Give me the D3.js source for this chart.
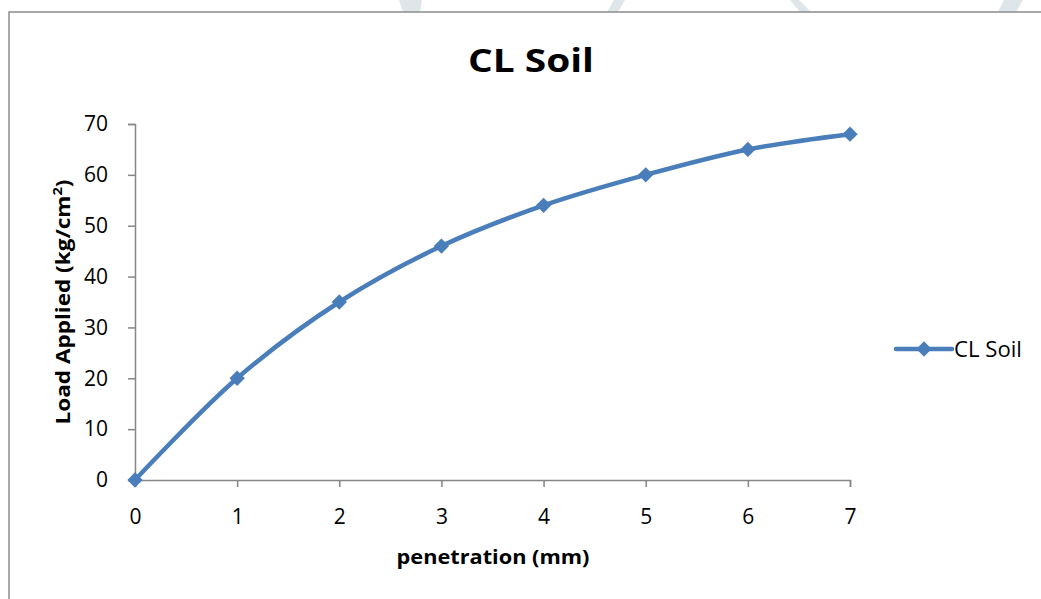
<!DOCTYPE html>
<html>
<head>
<meta charset="utf-8">
<script src="https://cdn.jsdelivr.net/npm/d3@7"></script>
<style>
  body { margin: 0; background: #fff; }
  svg { display: block; font-family: "Open Sans", "Liberation Sans", sans-serif; }
</style>
</head>
<body>
<svg id="chart" width="1041" height="599"></svg>
<script>
// chart data
const penetration = [0, 1, 2, 3, 4, 5, 6, 7];
const load = [0, 20, 35, 46, 54, 60, 65, 68];
const yTicks = [0, 10, 20, 30, 40, 50, 60, 70];
const seriesName = 'CL Soil';

const svg = d3.select('#chart');
const blue = '#4a7ebb';
const axisGrey = '#868686';

// stretch a text horizontally to a target width (the source picture is stretched)
function fitWidth(sel, w, base) {
  const n = sel.node().getComputedTextLength();
  sel.attr('transform', `${base} scale(${w / n},1)`);
}

// faint watermark shapes peeking above the chart frame
const marks = [
  [[399, 0], [422, 0], [420, 12], [403, 12]],
  [[614, 0], [625, 0], [618, 12], [607, 12]],
  [[790, 0], [799, 0], [811, 12], [800, 12]],
  [[1004, 0], [1023, 0], [1016, 12], [998, 12]]
];
svg.append('g').selectAll('path').data(marks).enter().append('path')
  .attr('d', d => 'M' + d.join('L') + 'Z')
  .attr('fill', '#dfe6ea');

// chart frame
svg.append('rect').attr('x', 9).attr('y', 12).attr('width', 1040).attr('height', 600)
  .attr('fill', '#fff').attr('stroke', '#8c8c8c').attr('stroke-width', 1.5);

const x = d3.scaleLinear().domain([0, 7]).range([135, 850]);
const y = d3.scaleLinear().domain([0, 70]).range([480, 124]);

// x axis
const gx = svg.append('g').attr('transform', `translate(0,${y(0)})`)
  .call(d3.axisBottom(x).tickValues(penetration).tickSize(7).tickPadding(22).tickFormat(d3.format('d')))
  .attr('font-family', null).attr('font-size', 21);
gx.select('.domain').attr('stroke', axisGrey).attr('stroke-width', 1.5);
gx.selectAll('.tick line').attr('stroke', axisGrey).attr('stroke-width', 1.5);
gx.selectAll('.tick text').attr('fill', '#000');

// y axis
const gy = svg.append('g').attr('transform', `translate(${x(0)},0)`)
  .call(d3.axisLeft(y).tickValues(yTicks).tickSize(7).tickPadding(20))
  .attr('font-family', null).attr('font-size', 21);
gy.select('.domain').attr('stroke', axisGrey).attr('stroke-width', 1.5);
gy.selectAll('.tick line').attr('stroke', axisGrey).attr('stroke-width', 1.5);
gy.selectAll('.tick text').attr('fill', '#000');

// title + axis titles
const title = svg.append('text').attr('text-anchor', 'middle')
  .attr('font-size', 33).attr('font-weight', 'bold').text('CL Soil');
fitWidth(title, 126, 'translate(531,72)');

const xt = svg.append('text').attr('text-anchor', 'middle')
  .attr('font-size', 20).attr('font-weight', 'bold').text('penetration (mm)');
fitWidth(xt, 193, 'translate(493,564)');

const yt = svg.append('text').attr('text-anchor', 'middle')
  .attr('font-size', 20).attr('font-weight', 'bold');
yt.append('tspan').text('Load Applied (kg/cm');
yt.append('tspan').attr('font-size', 13).attr('dy', -8).text('2');
yt.append('tspan').attr('dy', 8).text(')');
fitWidth(yt, 245, 'translate(70,302) rotate(-90)');

// series
const pts = penetration.map((p, i) => [p, load[i]]);
const line = d3.line().x(d => x(d[0])).y(d => y(d[1])).curve(d3.curveCatmullRom.alpha(0.5));
svg.append('path').datum(pts).attr('d', line)
  .attr('fill', 'none').attr('stroke', blue).attr('stroke-width', 4.5).attr('stroke-linejoin', 'round');

const diamond = d3.symbol().type(d3.symbolDiamond2).size(150);
svg.append('g').selectAll('path').data(pts).enter().append('path')
  .attr('d', diamond)
  .attr('transform', d => `translate(${x(d[0])},${y(d[1])})`)
  .attr('fill', blue);

// legend
const lg = svg.append('g').attr('transform', 'translate(896,349)');
lg.append('line').attr('x1', 0).attr('x2', 56).attr('stroke', blue).attr('stroke-width', 4.5).attr('stroke-linecap', 'round');
lg.append('path').attr('d', diamond).attr('transform', 'translate(28,0)').attr('fill', blue);
const lt = lg.append('text').attr('y', 8).attr('font-size', 21).text(seriesName);
fitWidth(lt, 68, 'translate(58,0)');
</script>
</body>
</html>
